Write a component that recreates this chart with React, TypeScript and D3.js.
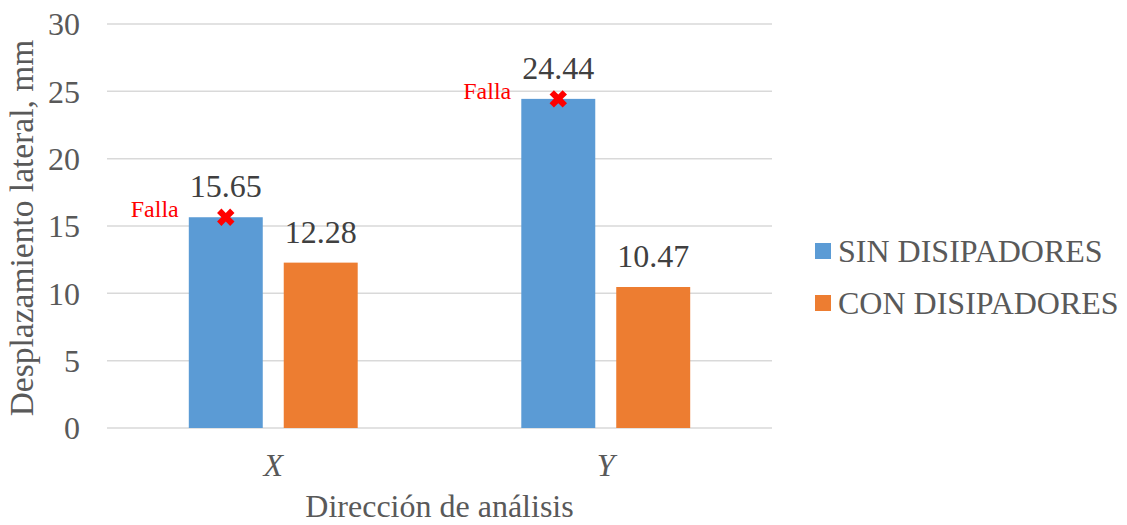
import React from "react";
import * as d3 from "d3";

const categories = ["X", "Y"];
const seriesNames = ["SIN DISIPADORES", "CON DISIPADORES"];
const sinValues = [15.65, 24.44];
const conValues = [12.28, 10.47];
const yTicks = [0, 5, 10, 15, 20, 25, 30];
const failureLabel = "Falla";

const colors = ["#5B9BD5", "#ED7D31"];
const FONT = "Liberation Serif, Times New Roman, DejaVu Serif, serif";

export default function App() {
  const W = 1127, H = 525;
  const left = 107, right = 772, top = 24, bottom = 428;

  const y = d3.scaleLinear().domain([0, 30]).range([bottom, top]);
  const x0 = d3.scaleBand<string>().domain(categories).range([left, right]).paddingInner(0).paddingOuter(0);
  const bw = x0.bandwidth();
  const x1 = d3.scaleBand<string>().domain(seriesNames).range([bw * 0.246, bw * 0.754]).paddingInner(0.221);

  const seriesValues = [sinValues, conValues];
  const bars = categories.flatMap((c, ci) =>
    seriesNames.map((s, si) => ({ c, s, si, v: seriesValues[si][ci] }))
  );

  const cross = d3.symbol().type(d3.symbolCross).size(190)();
  const ts = { fontFamily: FONT };

  return (
    <svg width={W} height={H} style={{ position: "absolute", left: 0, top: 0, background: "#fff", fontFamily: FONT }}>
      {yTicks.map((t) => (
        <g key={t}>
          <line x1={left} x2={right} y1={y(t)} y2={y(t)} stroke="#D9D9D9" strokeWidth={1.5} />
          <text style={ts} x={80} y={y(t)} dy="0.35em" textAnchor="end" fontSize={32} fill="#595959">{t}</text>
        </g>
      ))}
      {bars.map((b) => {
        const bx = (x0(b.c) ?? 0) + (x1(b.s) ?? 0);
        return (
          <g key={b.c + b.s}>
            <rect x={bx} y={y(b.v)} width={x1.bandwidth()} height={bottom - y(b.v)} fill={colors[b.si]} />
            <text style={ts} x={bx + x1.bandwidth() / 2} y={y(b.v) - 20} textAnchor="middle" fontSize={32} fill="#404040">
              {b.v.toFixed(2)}
            </text>
          </g>
        );
      })}
      {categories.map((c, ci) => {
        const cx = (x0(c) ?? 0) + (x1(seriesNames[0]) ?? 0) + x1.bandwidth() / 2;
        const cy = y(sinValues[ci]);
        return (
          <g key={"f" + c}>
            <path d={cross ?? ""} transform={`translate(${cx},${cy}) rotate(45)`} fill="#FF0000" />
            <text style={ts} x={cx - 47} y={cy} textAnchor="end" fontSize={24} fill="#FF0000">{failureLabel}</text>
          </g>
        );
      })}
      {categories.map((c) => (
        <text style={ts} key={"c" + c} x={(x0(c) ?? 0) + bw / 2} y={476} textAnchor="middle" fontSize={32} fontStyle="italic" fill="#595959">
          {c}
        </text>
      ))}
      <text style={ts} x={(left + right) / 2} y={517} textAnchor="middle" fontSize={32} fill="#595959">Dirección de análisis</text>
      <text style={ts} transform={`translate(33,228) rotate(-90)`} textAnchor="middle" fontSize={33.5} fill="#595959">
        Desplazamiento lateral, mm
      </text>
      {seriesNames.map((s, i) => (
        <g key={"l" + s} transform={`translate(815,${243 + i * 52})`}>
          <rect x={0} y={0} width={16} height={16} fill={colors[i]} />
          <text style={ts} x={23} y={19} fontSize={32} fill="#595959">{s}</text>
        </g>
      ))}
    </svg>
  );
}
